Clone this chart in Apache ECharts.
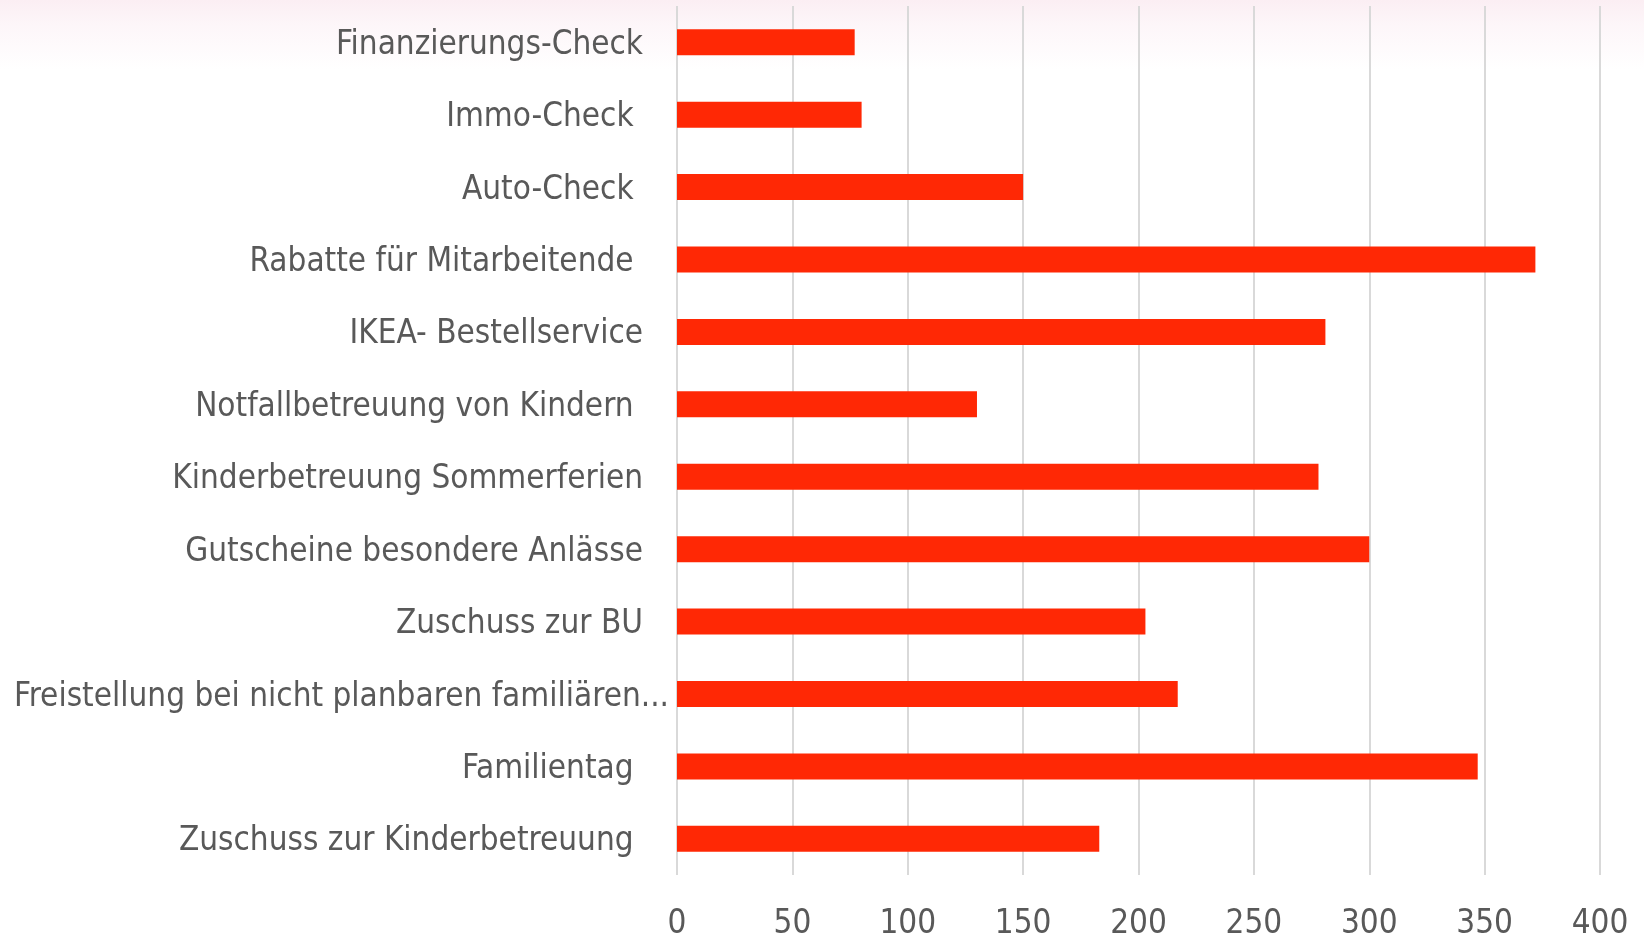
<!DOCTYPE html>
<html>
<head>
<meta charset="utf-8">
<script src="https://cdn.jsdelivr.net/npm/echarts@6/dist/echarts.min.js"></script>
<style>
    html, body {
        margin: 0;
        padding: 0;
        width: 1644px;
        height: 936px;
        overflow: hidden;
        background: linear-gradient(to bottom, #fbeef3 0px, #fdf6f9 25px, #ffffff 70px);
    }
    #chart {
        width: 1644px;
        height: 936px;
    }
</style>
</head>
<body>
<div id="chart"></div>
<script>
// Kategorien von oben nach unten (Leerzeichen am Ende wie im Original)
const categories = [
    'Finanzierungs-Check',
    'Immo-Check ',
    'Auto-Check ',
    'Rabatte für Mitarbeitende ',
    'IKEA- Bestellservice',
    'Notfallbetreuung von Kindern ',
    'Kinderbetreuung Sommerferien',
    'Gutscheine besondere Anlässe',
    'Zuschuss zur BU',
    'Freistellung bei nicht planbaren familiären...',
    'Familientag ',
    'Zuschuss zur Kinderbetreuung '
];
const values = [77, 80, 150, 372, 281, 130, 278, 300, 203, 217, 347, 183];
const xTicks = [0, 50, 100, 150, 200, 250, 300, 350, 400];

const FONT = "'Liberation Sans Narrow', 'DejaVu Sans Condensed', 'Liberation Sans', sans-serif";
const textColor = '#595959';

const chart = echarts.init(document.getElementById('chart'));

const option = {
    backgroundColor: 'transparent',
    animation: false,
    grid: {
        left: 677,
        right: 44,
        top: 6,
        bottom: 61,
        outerBoundsMode: 'none'
    },
    xAxis: {
        type: 'value',
        min: xTicks[0],
        max: xTicks[xTicks.length - 1],
        interval: xTicks[1] - xTicks[0],
        axisLine: { show: false },
        axisTick: { show: false },
        axisLabel: {
            color: textColor,
            fontFamily: FONT,
            fontSize: 33,
            margin: 33
        },
        splitLine: {
            lineStyle: { color: '#d9d9d9', width: 2 }
        }
    },
    yAxis: {
        type: 'category',
        inverse: true,
        data: categories,
        axisLine: { show: false },
        axisTick: { show: false },
        axisLabel: {
            margin: 8,
            // abgeschnittene Beschriftung ragt näher an die Achse
            formatter: (name) => name.endsWith('...') ? '{t|' + name + '}' : '{t|' + name + '}{s|}',
            rich: {
                t: { color: textColor, fontFamily: FONT, fontSize: 33, padding: [6, 0, 0, 0] },
                s: { width: 26 }
            }
        }
    },
    series: [
        {
            type: 'bar',
            data: values,
            barWidth: 26,
            itemStyle: { color: '#ff2805' }
        }
    ]
};

chart.setOption(option);
</script>
</body>
</html>
